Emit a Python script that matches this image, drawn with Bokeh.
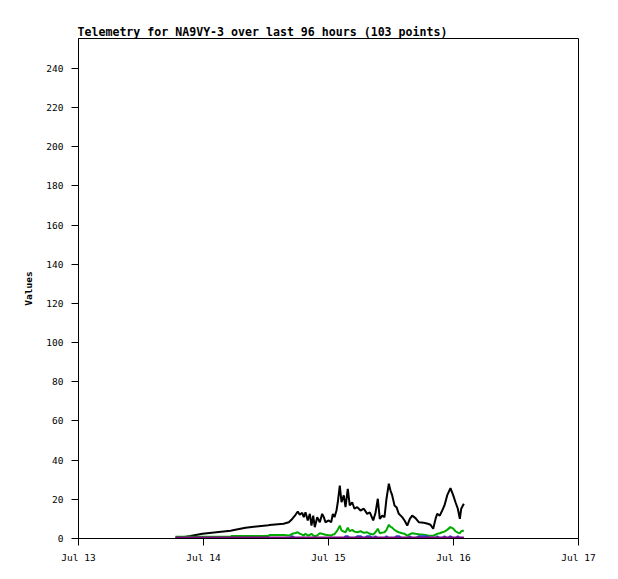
import pandas as pd
from bokeh.plotting import figure
from bokeh.models import Range1d, FixedTicker, DatetimeTickFormatter, ColumnDataSource
from bokeh.embed import file_html
from bokeh.resources import INLINE

title_text = "Telemetry for NA9VY-3 over last 96 hours (103 points)"
y_label = "Values"

times = [
    "2024-07-13 18:37", "2024-07-13 21:30", "2024-07-13 23:48", "2024-07-14 05:11",
    "2024-07-14 05:23", "2024-07-14 08:04", "2024-07-14 12:29", "2024-07-14 12:40",
    "2024-07-14 15:22", "2024-07-14 16:23", "2024-07-14 17:02", "2024-07-14 17:40",
    "2024-07-14 18:06", "2024-07-14 18:29", "2024-07-14 18:57", "2024-07-14 19:15",
    "2024-07-14 19:35", "2024-07-14 20:01", "2024-07-14 20:25", "2024-07-14 20:44",
    "2024-07-14 21:04", "2024-07-14 21:22", "2024-07-14 21:50", "2024-07-14 22:20",
    "2024-07-14 22:47", "2024-07-14 23:06", "2024-07-14 23:25", "2024-07-15 00:03",
    "2024-07-15 00:31", "2024-07-15 00:50", "2024-07-15 01:09", "2024-07-15 01:32",
    "2024-07-15 01:47", "2024-07-15 02:10", "2024-07-15 02:30", "2024-07-15 02:56",
    "2024-07-15 03:16", "2024-07-15 03:42", "2024-07-15 04:05", "2024-07-15 04:33",
    "2024-07-15 04:59", "2024-07-15 05:31", "2024-07-15 06:09", "2024-07-15 06:47",
    "2024-07-15 07:26", "2024-07-15 07:56", "2024-07-15 08:35", "2024-07-15 09:01",
    "2024-07-15 09:28", "2024-07-15 09:51", "2024-07-15 10:19", "2024-07-15 10:45",
    "2024-07-15 11:08", "2024-07-15 11:35", "2024-07-15 11:54", "2024-07-15 12:14",
    "2024-07-15 12:40", "2024-07-15 13:03", "2024-07-15 13:30", "2024-07-15 14:09",
    "2024-07-15 14:36", "2024-07-15 15:07", "2024-07-15 15:37", "2024-07-15 16:04",
    "2024-07-15 16:42", "2024-07-15 17:20", "2024-07-15 18:18", "2024-07-15 19:04",
    "2024-07-15 19:35", "2024-07-15 20:06", "2024-07-15 20:33", "2024-07-15 20:52",
    "2024-07-15 21:22", "2024-07-15 21:50", "2024-07-15 22:16", "2024-07-15 22:47",
    "2024-07-15 23:25", "2024-07-15 23:57", "2024-07-16 00:23", "2024-07-16 00:50",
    "2024-07-16 01:13", "2024-07-16 01:29", "2024-07-16 01:59",
]

black_vals = [
    0, 1.3, 2.4, 4.0, 4.1, 5.5, 6.8, 6.9,
    7.5, 8.3, 10, 12.1, 13.8, 12.1, 13.1, 10.9,
    13.4, 9.2, 12.6, 6.6, 11.7, 5.8, 10.9, 8.3,
    12.6, 10.9, 8.3, 9.2, 8.3, 12.6, 10.9, 14.3,
    18.5, 27, 18.5, 22, 16, 25.4, 16.9, 18.5,
    15.2, 16, 14.3, 15.2, 12.6, 13.4, 9.2, 13,
    20.3, 10, 11.7, 10.9, 20.3, 28, 24.5, 22,
    16.9, 16, 12.6, 10.9, 9.2, 6.6, 10, 11.7,
    10.4, 8.3, 8, 7.5, 7, 5, 10, 12.6,
    11.7, 14.3, 16.9, 22, 25.7, 22, 18.5, 15.2,
    10, 15.2, 17.7,
]

green_vals = [
    0.9, 0.9, 0.9, 0.9, 1.3, 1.3, 1.3, 1.8,
    1.8, 1.5, 2.4, 2.8, 3.2, 2.4, 2.0, 1.5,
    2.4, 1.5, 1.8, 2.4, 1.5, 1.2, 1.5, 2.7,
    2.4, 2.2, 1.9, 1.7, 1.5, 2.0, 2.2, 3.5,
    4.5, 6.6, 4.1, 3.5, 3.2, 5.5, 3.7, 4.4,
    3.5, 3.2, 3.7, 2.9, 3.2, 2.4, 2.0, 3.2,
    5.0, 2.7, 3.0, 3.2, 4.4, 7.0, 6.0, 5.5,
    4.4, 3.7, 3.2, 2.7, 2.4, 1.5, 2.2, 2.7,
    2.4, 2.2, 1.9, 1.5, 1.4, 1.4, 2.0, 2.4,
    2.7, 3.2, 3.5, 4.4, 5.8, 5.0, 3.7, 3.0,
    2.7, 3.7, 4.1,
]

blue_vals = [
    0, 0, 0, 0, 0, 0, 0, 0,
    0, 0, 1.2, 0, 0, 0, 0, 0,
    0, 0, 0, 0, 0, 0, 0, 0,
    0, 0, 0, 0, 0, 0, 0, 0,
    0, 0, 0, 0, 1.2, 1.2, 0, 0,
    0, 1.2, 1.2, 0, 1.2, 1.2, 0, 1.2,
    0, 0, 0, 0, 1.2, 0, 0, 0,
    0, 1.2, 1.2, 0, 0, 0, 1.2, 0,
    0, 1.2, 1.2, 1.2, 0, 0, 0, 1.2,
    0, 0, 1.2, 0, 1.2, 0, 0, 1.2,
    0, 0, 0,
]

purple_vals = [0] * len(times)

x_start = "2024-07-13"
x_end = "2024-07-17"
x_tick_dates = ["2024-07-13", "2024-07-14", "2024-07-15", "2024-07-16", "2024-07-17"]
y_ticks = [0, 20, 40, 60, 80, 100, 120, 140, 160, 180, 200, 220, 240]
y_max = 255.3

src = ColumnDataSource(dict(
    t=pd.to_datetime(times),
    black=black_vals,
    green=green_vals,
    blue=blue_vals,
    purple=purple_vals,
))

p = figure(
    width=610, height=571,
    x_axis_type="datetime",
    x_range=Range1d(pd.Timestamp(x_start), pd.Timestamp(x_end)),
    y_range=Range1d(0, y_max),
    output_backend="svg", toolbar_location=None,
    min_border_left=78, min_border_right=32, min_border_top=38, min_border_bottom=33,
)
p.title.text = title_text
p.title.text_font = "DejaVu Sans Mono"
p.title.text_font_size = "11.6px"
p.title.text_font_style = "bold"
p.title.text_color = "black"
p.title.align = "left"
p.title.standoff = 0
p.title.offset = -1

p.grid.visible = False
p.outline_line_color = "black"
p.outline_line_width = 1
p.background_fill_color = "white"
p.border_fill_color = "white"

p.xaxis.ticker = FixedTicker(ticks=[pd.Timestamp(d).value / 1e6 for d in x_tick_dates])
p.xaxis.formatter = DatetimeTickFormatter(
    days="%b %d", months="%b %d", hours="%b %d", years="%b %d")
p.yaxis.ticker = FixedTicker(ticks=y_ticks)
p.yaxis.axis_label = y_label

for ax in (p.xaxis, p.yaxis):
    ax.axis_line_color = "black"
    ax.major_tick_line_color = "black"
    ax.major_tick_in = 0
    ax.major_tick_out = 7
    ax.minor_tick_line_color = None
    ax.major_label_text_font = "DejaVu Sans Mono"
    ax.major_label_text_font_size = "9.5px"
    ax.major_label_text_color = "black"
    ax.axis_label_text_font = "DejaVu Sans Mono"
    ax.axis_label_text_font_size = "9.5px"
    ax.axis_label_text_font_style = "bold"
    ax.axis_label_text_color = "black"
p.yaxis.major_label_standoff = 8
p.xaxis.major_label_standoff = 6
p.yaxis.axis_label_standoff = 9

p.line("t", "black", source=src, line_color="black", line_width=2)
p.line("t", "green", source=src, line_color="#00aa00", line_width=2)
p.line("t", "blue", source=src, line_color="#2050d0", line_width=2)
p.line("t", "purple", source=src, line_color="#800080", line_width=4)

open("out.html", "w").write(file_html(p, INLINE))
